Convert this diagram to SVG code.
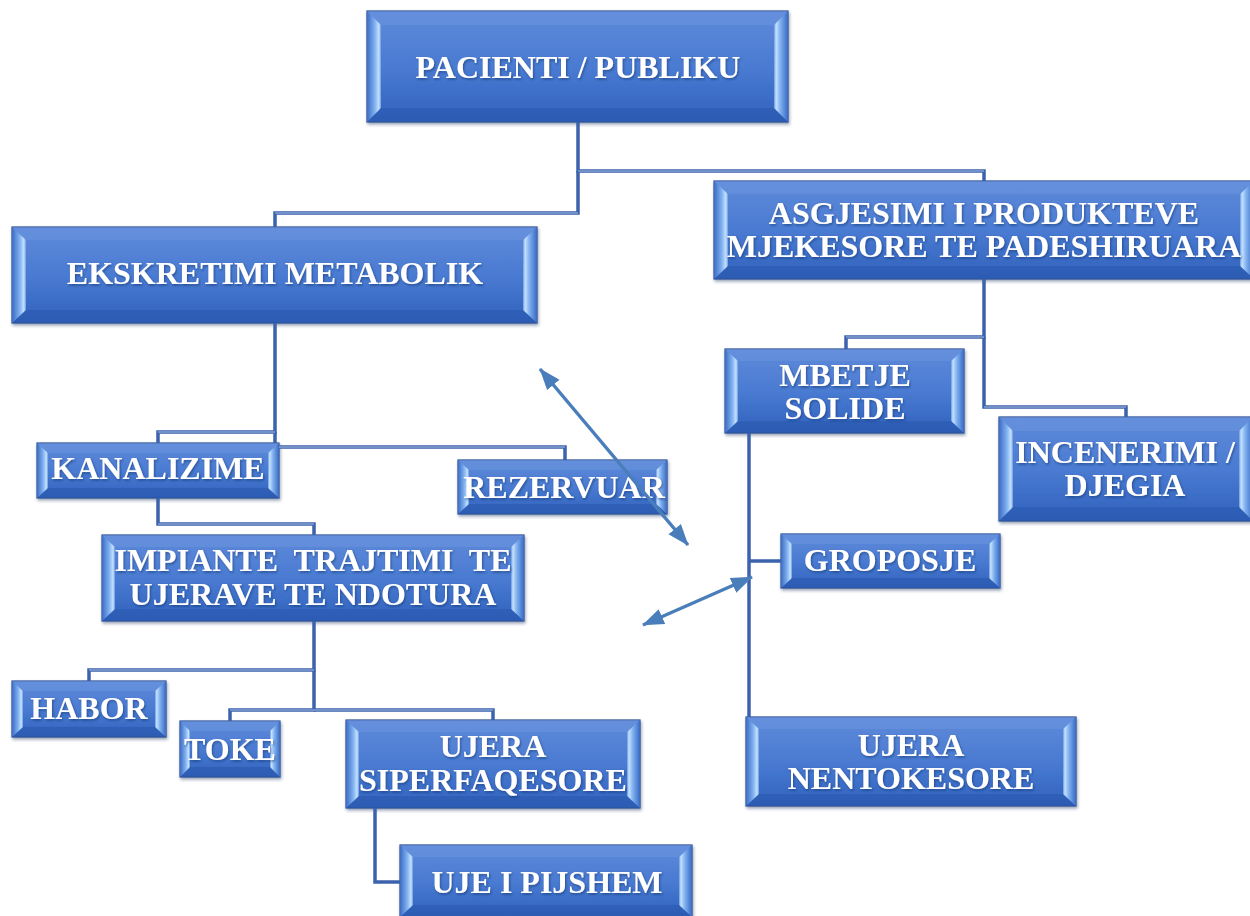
<svg xmlns="http://www.w3.org/2000/svg" width="1250" height="916" viewBox="0 0 1250 916">
<defs>
<linearGradient id="face" x1="0" y1="0" x2="0" y2="1">
<stop offset="0" stop-color="#5f8ad9"/>
<stop offset="0.5" stop-color="#4a7bd2"/>
<stop offset="1" stop-color="#3062bd"/>
</linearGradient>
<linearGradient id="bevL" x1="0" y1="0" x2="1" y2="0">
<stop offset="0" stop-color="#3c6cc4"/>
<stop offset="0.55" stop-color="#7fb0ef"/>
<stop offset="0.85" stop-color="#c4e2ff"/>
<stop offset="1" stop-color="#6a98e0"/>
</linearGradient>
<linearGradient id="bevR" x1="1" y1="0" x2="0" y2="0">
<stop offset="0" stop-color="#3a6ac2"/>
<stop offset="0.55" stop-color="#7fb0ef"/>
<stop offset="0.85" stop-color="#c4e2ff"/>
<stop offset="1" stop-color="#6a98e0"/>
</linearGradient>
<filter id="ts" x="-5%" y="-20%" width="110%" height="140%">
<feDropShadow dx="1" dy="1.5" stdDeviation="1" flood-color="#15306a" flood-opacity="0.6"/>
</filter>
<filter id="bs" x="-5%" y="-10%" width="110%" height="125%">
<feDropShadow dx="1" dy="2" stdDeviation="1.5" flood-color="#1f3560" flood-opacity="0.45"/>
</filter>
<marker id="ah" viewBox="0 0 12 10" refX="11.5" refY="5" markerWidth="22" markerHeight="18" orient="auto-start-reverse" markerUnits="userSpaceOnUse">
<path d="M0,0.5 L12,5 L0,9.5 z" fill="#4a7ebb"/>
</marker>
<style>
.box{fill:url(#face);stroke:#2d4f92;stroke-width:1.2;filter:url(#bs)}
.bl{fill:url(#bevL)}
.br{fill:url(#bevR)}
.bt{fill:#6a94de;opacity:0.55}
.bb{fill:#2a58ad;opacity:0.6}
.t{font-family:"Liberation Serif","Times New Roman",serif;font-weight:bold;font-size:32px;fill:#ffffff;text-anchor:middle;filter:url(#ts)}
.c{fill:none;stroke:#3b62ad;stroke-width:3.5}
.ci{fill:none;stroke:#a9bfe6;stroke-width:1}
.ar{fill:none;stroke:#4a7ebb;stroke-width:3.4;marker-start:url(#ah);marker-end:url(#ah)}
</style>
</defs>
<rect width="1250" height="916" fill="#ffffff"/>

<g id="n-pacienti">
<rect class="box" x="367" y="11" width="421" height="111"/>
<polygon class="bt" points="367,11 788,11 774,25 381,25"/>
<polygon class="bb" points="367,122 788,122 774,108 381,108"/>
<polygon class="bl" points="367,11 381,25 381,108 367,122"/>
<polygon class="br" points="788,11 774,25 774,108 788,122"/>
<text class="t" x="578" y="78">PACIENTI / PUBLIKU</text>
</g>

<g id="n-ekskretimi">
<rect class="box" x="12" y="227" width="525" height="96"/>
<polygon class="bt" points="12,227 537,227 523,240 26,240"/>
<polygon class="bb" points="12,323 537,323 523,310 26,310"/>
<polygon class="bl" points="12,227 26,240 26,310 12,323"/>
<polygon class="br" points="537,227 523,240 523,310 537,323"/>
<text class="t" x="275" y="284">EKSKRETIMI METABOLIK</text>
</g>

<g id="n-asgjesimi">
<rect class="box" x="714" y="181" width="540" height="98"/>
<polygon class="bt" points="714,181 1254,181 1240,194 728,194"/>
<polygon class="bb" points="714,279 1254,279 1240,266 728,266"/>
<polygon class="bl" points="714,181 728,194 728,266 714,279"/>
<polygon class="br" points="1254,181 1240,194 1240,266 1254,279"/>
<text class="t" x="984" y="224">ASGJESIMI I PRODUKTEVE</text>
<text class="t" x="984" y="257">MJEKESORE TE PADESHIRUARA</text>
</g>

<g id="n-mbetje">
<rect class="box" x="725" y="349" width="239" height="84"/>
<polygon class="bt" points="725,349 964,349 951,361 738,361"/>
<polygon class="bb" points="725,433 964,433 951,421 738,421"/>
<polygon class="bl" points="725,349 738,361 738,421 725,433"/>
<polygon class="br" points="964,349 951,361 951,421 964,433"/>
<text class="t" x="845" y="386">MBETJE</text>
<text class="t" x="845" y="419">SOLIDE</text>
</g>

<g id="n-incenerimi">
<rect class="box" x="999" y="417" width="254" height="104"/>
<polygon class="bt" points="999,417 1253,417 1239,431 1013,431"/>
<polygon class="bb" points="999,521 1253,521 1239,507 1013,507"/>
<polygon class="bl" points="999,417 1013,431 1013,507 999,521"/>
<polygon class="br" points="1253,417 1239,431 1239,507 1253,521"/>
<text class="t" x="1125" y="463">INCENERIMI /</text>
<text class="t" x="1125" y="496">DJEGIA</text>
</g>

<g id="n-kanalizime">
<rect class="box" x="37" y="443" width="242" height="55"/>
<polygon class="bt" points="37,443 279,443 268,453 48,453"/>
<polygon class="bb" points="37,498 279,498 268,488 48,488"/>
<polygon class="bl" points="37,443 48,453 48,488 37,498"/>
<polygon class="br" points="279,443 268,453 268,488 279,498"/>
<text class="t" x="158" y="479">KANALIZIME</text>
</g>

<g id="n-rezervuar">
<rect class="box" x="458" y="460" width="209" height="54"/>
<polygon class="bt" points="458,460 667,460 656,470 469,470"/>
<polygon class="bb" points="458,514 667,514 656,504 469,504"/>
<polygon class="bl" points="458,460 469,470 469,504 458,514"/>
<polygon class="br" points="667,460 656,470 656,504 667,514"/>
<text class="t" x="564" y="498">REZERVUAR</text>
</g>

<g id="n-impiante">
<rect class="box" x="102" y="535" width="422" height="86"/>
<polygon class="bt" points="102,535 524,535 511,547 115,547"/>
<polygon class="bb" points="102,621 524,621 511,609 115,609"/>
<polygon class="bl" points="102,535 115,547 115,609 102,621"/>
<polygon class="br" points="524,535 511,547 511,609 524,621"/>
<text class="t" x="313" y="571" xml:space="preserve">IMPIANTE  TRAJTIMI  TE</text>
<text class="t" x="313" y="605">UJERAVE TE NDOTURA</text>
</g>

<g id="n-groposje">
<rect class="box" x="781" y="534" width="219" height="54"/>
<polygon class="bt" points="781,534 1000,534 989,544 792,544"/>
<polygon class="bb" points="781,588 1000,588 989,578 792,578"/>
<polygon class="bl" points="781,534 792,544 792,578 781,588"/>
<polygon class="br" points="1000,534 989,544 989,578 1000,588"/>
<text class="t" x="890" y="571">GROPOSJE</text>
</g>

<g id="n-habor">
<rect class="box" x="12" y="681" width="154" height="56"/>
<polygon class="bt" points="12,681 166,681 155,691 23,691"/>
<polygon class="bb" points="12,737 166,737 155,727 23,727"/>
<polygon class="bl" points="12,681 23,691 23,727 12,737"/>
<polygon class="br" points="166,681 155,691 155,727 166,737"/>
<text class="t" x="89" y="719">HABOR</text>
</g>

<g id="n-toke">
<rect class="box" x="180" y="721" width="100" height="56"/>
<polygon class="bt" points="180,721 280,721 270,731 190,731"/>
<polygon class="bb" points="180,777 280,777 270,767 190,767"/>
<polygon class="bl" points="180,721 190,731 190,767 180,777"/>
<polygon class="br" points="280,721 270,731 270,767 280,777"/>
<text class="t" x="230" y="760">TOKE</text>
</g>

<g id="n-siperfaqesore">
<rect class="box" x="346" y="720" width="294" height="88"/>
<polygon class="bt" points="346,720 640,720 627,732 359,732"/>
<polygon class="bb" points="346,808 640,808 627,796 359,796"/>
<polygon class="bl" points="346,720 359,732 359,796 346,808"/>
<polygon class="br" points="640,720 627,732 627,796 640,808"/>
<text class="t" x="493" y="757">UJERA</text>
<text class="t" x="493" y="791">SIPERFAQESORE</text>
</g>

<g id="n-nentokesore">
<rect class="box" x="746" y="717" width="330" height="89"/>
<polygon class="bt" points="746,717 1076,717 1063,729 759,729"/>
<polygon class="bb" points="746,806 1076,806 1063,794 759,794"/>
<polygon class="bl" points="746,717 759,729 759,794 746,806"/>
<polygon class="br" points="1076,717 1063,729 1063,794 1076,806"/>
<text class="t" x="911" y="756">UJERA</text>
<text class="t" x="911" y="789">NENTOKESORE</text>
</g>

<g id="n-pijshem">
<rect class="box" x="400" y="845" width="292" height="72"/>
<polygon class="bt" points="400,845 692,845 679,857 413,857"/>
<polygon class="bb" points="400,917 692,917 679,905 413,905"/>
<polygon class="bl" points="400,845 413,857 413,905 400,917"/>
<polygon class="br" points="692,845 679,857 679,905 692,917"/>
<text class="t" x="547" y="893">UJE I PIJSHEM</text>
</g>

<g id="connectors">
<path class="c" d="M578,122 V171 H984 V181"/>
<path class="c" d="M578,171 V213 H275 V227"/>
<path class="c" d="M275,323 V432 H158 V443"/>
<path class="c" d="M275,432 V443"/>
<path class="c" d="M279,447 H565 V460"/>
<path class="c" d="M158,498 V524 H314 V535"/>
<path class="c" d="M314,621 V670 H89 V681"/>
<path class="c" d="M314,670 V710 H230 V721"/>
<path class="c" d="M314,710 H493 V720"/>
<path class="c" d="M375,808 V882 H400"/>
<path class="c" d="M984,279 V337 H846 V349"/>
<path class="c" d="M984,337 V407 H1126 V417"/>
<path class="c" d="M749,433 V717"/>
<path class="c" d="M749,561 H781"/>
<path class="ci" d="M578,171 H984 M578,213 H275 M275,432 H158 M279,447 H565 M158,524 H314 M314,670 H89 M314,710 H230 M314,710 H493 M984,337 H846 M984,407 H1126"/>
<path class="ar" d="M540,369 L688,545"/>
<path class="ar" d="M643,625 L752,577"/>
</g>
</svg>
